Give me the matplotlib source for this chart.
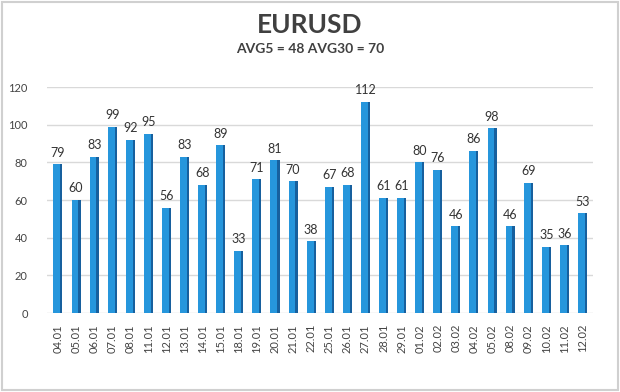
import matplotlib.pyplot as plt
from matplotlib.patches import Rectangle

plt.rcParams['font.family'] = ['Lato', 'DejaVu Sans']

dates = ['04.01', '05.01', '06.01', '07.01', '08.01', '11.01', '12.01', '13.01',
         '14.01', '15.01', '18.01', '19.01', '20.01', '21.01', '22.01', '25.01',
         '26.01', '27.01', '28.01', '29.01', '01.02', '02.02', '03.02', '04.02',
         '05.02', '08.02', '09.02', '10.02', '11.02', '12.02']
values = [79, 60, 83, 99, 92, 95, 56, 83, 68, 89, 33, 71, 81, 70, 38, 67,
          68, 112, 61, 61, 80, 76, 46, 86, 98, 46, 69, 35, 36, 53]
y_ticks = [0, 20, 40, 60, 80, 100, 120]

fig = plt.figure(figsize=(6.2, 3.92), dpi=100)
ax = fig.add_axes([0.076, 0.2015, 0.881, 0.5765])

x = range(len(values))
# main face of the bars plus a darker side strip for the 3D look
ax.bar(x, values, width=0.5, color='#2696dc', zorder=3)
ax.bar([i + 0.19 for i in x], values, width=0.12, color='#17609e', zorder=4)

for i, v in zip(x, values):
    ax.text(i, v + 3, str(v), ha='center', va='bottom', fontsize=9,
            color='#333333', zorder=5)

ax.set_xlim(-0.6, len(values) - 0.4)
ax.set_ylim(0, 120)
ax.set_yticks(y_ticks)
ax.set_xticks(list(x))
ax.set_xticklabels(dates, rotation=90, fontsize=8, color='#444444')
ax.tick_params(axis='y', labelsize=8, colors='#444444', length=0, pad=14)
ax.tick_params(axis='x', length=0, pad=8)
ax.grid(axis='y', color='#d9d9d9', linewidth=1, zorder=0)
for s in ax.spines.values():
    s.set_visible(False)

fig.text(0.5, 0.935, 'EURUSD', ha='center', va='center', fontsize=19,
         fontweight='bold', color='#404040')
fig.text(0.5, 0.875, 'AVG5 = 48 AVG30 = 70', ha='center', va='center',
         fontsize=10, fontweight='bold', color='#404040')

fig.patches.append(Rectangle((0.003, 0.004), 0.994, 0.992, transform=fig.transFigure,
                             fill=False, edgecolor='#d0d0d0', linewidth=1.5))

fig.savefig('out.png', dpi=100)
